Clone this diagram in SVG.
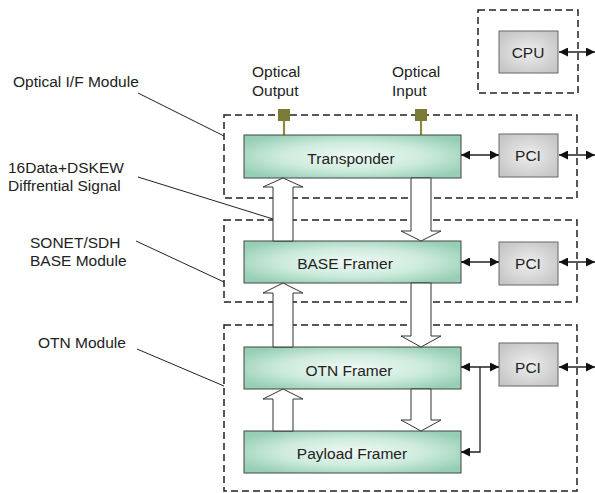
<svg xmlns="http://www.w3.org/2000/svg" width="595" height="493" viewBox="0 0 595 493">
  <style>
    text { font-family: "Liberation Sans", Arial, sans-serif; font-size: 15.5px; fill: #222; }
    .mid { text-anchor: middle; }
    .module { fill: none; stroke: #222; stroke-width: 1.5; stroke-dasharray: 7 4; }
    .block { fill: url(#greenFill); stroke: #444; stroke-width: 1; }
    .chip { fill: url(#grayFill); stroke: #666; stroke-width: 1; }
    .bus { fill: #fff; stroke: #333; stroke-width: 1; }
    .link { fill: none; stroke: #222; stroke-width: 1.3; }
    .leader { fill: none; stroke: #222; stroke-width: 1; }
    .port { fill: #7b7a36; }
    .stem { stroke: #8e8c3e; stroke-width: 2.2; }
  </style>
  <defs>
    <radialGradient id="greenFill" cx="0.5" cy="0.5" r="0.6">
      <stop offset="0" stop-color="#f0f9f4"/>
      <stop offset="0.55" stop-color="#cdebdd"/>
      <stop offset="1" stop-color="#97cfb5"/>
    </radialGradient>
    <radialGradient id="grayFill" cx="0.5" cy="0.5" r="0.6">
      <stop offset="0" stop-color="#eeeeee"/>
      <stop offset="1" stop-color="#c6c6c6"/>
    </radialGradient>
    <marker id="head" viewBox="0 0 10 10" markerUnits="userSpaceOnUse" markerWidth="9" markerHeight="9" refX="10" refY="5" orient="auto-start-reverse">
      <path d="M0,0 L10,5 L0,10 z" fill="#111"/>
    </marker>
  </defs>

  <!-- dashed module outlines -->
  <g id="modules">
    <rect id="cpu-module" class="module" x="478" y="10" width="100" height="83"/>
    <rect id="optical-module" class="module" x="224" y="115" width="353" height="83"/>
    <rect id="sonet-module" class="module" x="224" y="220" width="353" height="82"/>
    <rect id="otn-module" class="module" x="224" y="325" width="353" height="166"/>
  </g>

  <!-- optical ports -->
  <g id="optical-ports">
    <line class="stem" x1="284" y1="120" x2="284" y2="135"/>
    <rect class="port" x="278" y="109" width="12" height="12"/>
    <line class="stem" x1="421" y1="120" x2="421" y2="135"/>
    <rect class="port" x="415" y="109" width="12" height="12"/>
  </g>

  <!-- functional blocks -->
  <g id="transponder">
    <rect class="block" x="244" y="135" width="217" height="43"/>
    <text class="mid" x="351" y="164">Transponder</text>
  </g>
  <g id="base-framer">
    <rect class="block" x="244" y="241" width="217" height="42"/>
    <text class="mid" x="345" y="269">BASE Framer</text>
  </g>
  <g id="otn-framer">
    <rect class="block" x="244" y="347" width="217" height="42"/>
    <text class="mid" x="349" y="376">OTN Framer</text>
  </g>
  <g id="payload-framer">
    <rect class="block" x="244" y="431" width="217" height="42"/>
    <text class="mid" x="352" y="459">Payload Framer</text>
  </g>
  <g id="cpu">
    <rect class="chip" x="499" y="31" width="59" height="42"/>
    <text class="mid" x="528" y="58">CPU</text>
  </g>
  <g id="pci-1">
    <rect class="chip" x="499" y="134" width="59" height="43"/>
    <text class="mid" x="528" y="161">PCI</text>
  </g>
  <g id="pci-2">
    <rect class="chip" x="499" y="242" width="59" height="43"/>
    <text class="mid" x="528" y="269">PCI</text>
  </g>
  <g id="pci-3">
    <rect class="chip" x="499" y="343" width="59" height="43"/>
    <text class="mid" x="528" y="373">PCI</text>
  </g>

  <!-- connectors: data buses and control links -->
  <g id="connectors">
    <!-- up buses (left) -->
    <polygon class="bus" points="283,178 303,187 293,187 293,241 273,241 273,187 263,187"/>
    <polygon class="bus" points="283,283 303,293 293,293 293,347 273,347 273,293 263,293"/>
    <polygon class="bus" points="283,389 303,399 293,399 293,431 273,431 273,399 263,399"/>
    <!-- down buses (right) -->
    <polygon class="bus" points="411,178 431,178 431,231 441,231 421,241 401,231 411,231"/>
    <polygon class="bus" points="411,283 431,283 431,336 441,336 421,347 401,336 411,336"/>
    <polygon class="bus" points="411,389 431,389 431,420 441,420 421,431 401,420 411,420"/>

    <!-- bidirectional control links -->
    <line class="link" x1="559" y1="52" x2="595" y2="52" marker-start="url(#head)" marker-end="url(#head)"/>
    <line class="link" x1="461" y1="155" x2="499" y2="155" marker-start="url(#head)" marker-end="url(#head)"/>
    <line class="link" x1="559" y1="155" x2="595" y2="155" marker-start="url(#head)" marker-end="url(#head)"/>
    <line class="link" x1="461" y1="262" x2="499" y2="262" marker-start="url(#head)" marker-end="url(#head)"/>
    <line class="link" x1="559" y1="262" x2="595" y2="262" marker-start="url(#head)" marker-end="url(#head)"/>
    <line class="link" x1="461" y1="367" x2="499" y2="367" marker-start="url(#head)" marker-end="url(#head)"/>
    <line class="link" x1="559" y1="367" x2="595" y2="367" marker-start="url(#head)" marker-end="url(#head)"/>
    <polyline class="link" points="480,367 480,452 461,452" marker-end="url(#head)"/>

    <!-- label leader lines -->
    <line class="leader" x1="138" y1="93" x2="224" y2="136"/>
    <line class="leader" x1="138" y1="177" x2="273" y2="219"/>
    <line class="leader" x1="136" y1="241" x2="224" y2="282"/>
    <line class="leader" x1="137" y1="349" x2="224" y2="386"/>
  </g>

  <!-- annotations -->
  <g id="labels">
    <text x="252" y="77">Optical</text>
    <text x="252" y="96">Output</text>
    <text x="392" y="77">Optical</text>
    <text x="392" y="96">Input</text>
    <text x="13" y="87">Optical I/F Module</text>
    <text x="8" y="173">16Data+DSKEW</text>
    <text x="8" y="191">Diffrential Signal</text>
    <text x="30" y="248">SONET/SDH</text>
    <text x="30" y="266">BASE Module</text>
    <text x="38" y="348">OTN Module</text>
  </g>
</svg>
